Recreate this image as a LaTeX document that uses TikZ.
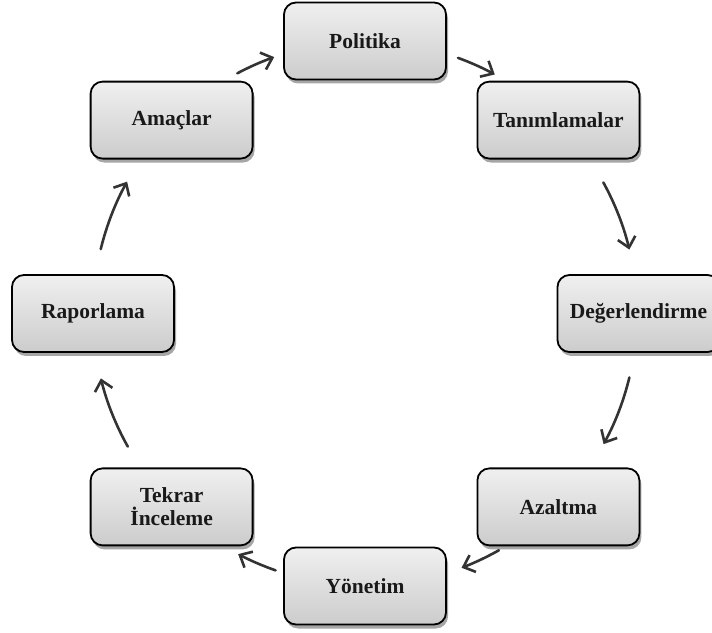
\documentclass[tikz,border=0pt]{standalone}
\usepackage{fontspec}
\setmainfont{Liberation Serif}
\usetikzlibrary{arrows.meta,shadows,calc}
\begin{document}
\begin{tikzpicture}[x=1pt,y=1pt,
  cyclebox/.style={draw=black, line width=1.8pt, rounded corners=12pt,
    minimum width=162pt, minimum height=77pt, align=center,
    top color=gray!12, bottom color=gray!40,
    drop shadow={shadow xshift=2pt, shadow yshift=-4pt, opacity=0.35, fill=black},
    font=\fontsize{21.5}{23}\selectfont\bfseries, text=black!90},
  cyclearrow/.style={draw=black!80, line width=2.6pt, line cap=round,
    -{Straight Barb[length=10pt,width=18pt,line width=2.6pt]}}]
\useasboundingbox (0,0) rectangle (712,632);
\clip (0,0) rectangle (712,632);
\coordinate (C) at (365,318.5);
\def\R{272}
\node[cyclebox] (pol) at ($(C)+(90:272.5)$) {Politika};
\node[cyclebox] (tan) at ($(C)+(45:273.5)$) {Tanımlamalar};
\node[cyclebox] (deg) at ($(C)+(0:273.5)$) {Değerlendirme};
\node[cyclebox] (aza) at ($(C)+(-45:273.5)$) {Azaltma};
\node[cyclebox] (yon) at ($(C)+(-90:272.5)$) {Yönetim};
\node[cyclebox] (tek) at ($(C)+(-135:273.5)$) {Tekrar\\İnceleme};
\node[cyclebox] (rap) at ($(C)+(180:272)$) {Raporlama};
\node[cyclebox] (ama) at ($(C)+(135:273.5)$) {Amaçlar};
% arrow start points on the circle
\coordinate (a1) at ($(C)+(118:\R)$);
\coordinate (a2) at ($(C)+(70:\R)$);
\coordinate (a3) at ($(C)+(28.8:\R)$);
\coordinate (a4) at ($(C)+(-13.6:\R)$);
\coordinate (a5) at ($(C)+(-60.5:\R)$);
\coordinate (a6) at ($(C)+(-109.2:\R)$);
\coordinate (a7) at ($(C)+(-150.7:\R)$);
\coordinate (a8) at ($(C)+(166.3:\R)$);
\draw[cyclearrow] (a1) arc[start angle=118, end angle=109.5, radius=\R];
\draw[cyclearrow] (a2) arc[start angle=70, end angle=61.5, radius=\R];
\draw[cyclearrow] (a3) arc[start angle=28.8, end angle=13.6, radius=\R];
\draw[cyclearrow] (a4) arc[start angle=-13.6, end angle=-28.7, radius=\R];
\draw[cyclearrow] (a5) arc[start angle=-60.5, end angle=-69.2, radius=\R];
\draw[cyclearrow] (a6) arc[start angle=-109.2, end angle=-117.8, radius=\R];
\draw[cyclearrow] (a7) arc[start angle=-150.7, end angle=-166.2, radius=\R];
\draw[cyclearrow] (a8) arc[start angle=166.3, end angle=151, radius=\R];
\end{tikzpicture}
\end{document}
